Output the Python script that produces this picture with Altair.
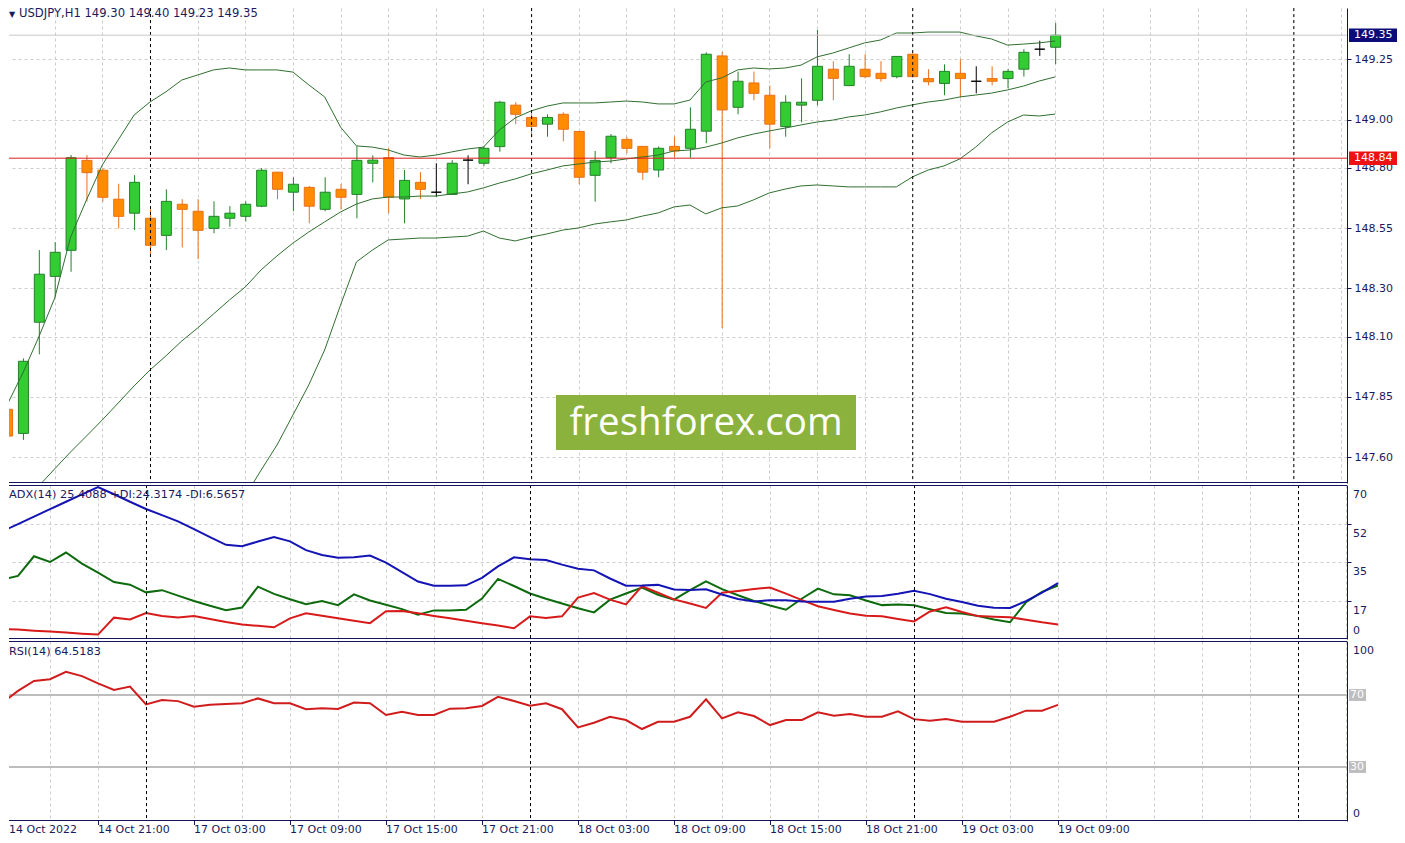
import altair as alt
import pandas as pd

# ---------------- values ----------------
# bar index 0 = 14 Oct 15:00 ... 66 = 19 Oct 09:00 (H1)
opens = [147.799, 147.699, 148.160, 148.350, 148.458, 148.831, 148.790, 148.670, 148.612, 148.591,
         148.520, 148.649, 148.620, 148.549, 148.591, 148.599, 148.641, 148.782, 148.699, 148.719,
         148.628, 148.711, 148.690, 148.819, 148.842, 148.671, 148.740, 148.699, 148.690, 148.832,
         148.819, 148.888, 149.060, 149.009, 148.981, 149.022, 148.951, 148.769, 148.842, 148.918,
         148.889, 148.791, 148.889, 148.881, 148.952, 149.264, 149.051, 149.152, 149.101, 148.971,
         149.060, 149.080, 149.209, 149.141, 149.209, 149.192, 149.178, 149.271, 149.170, 149.150,
         149.192, 149.159, 149.170, 149.170, 149.209, 149.292, 149.300]
highs = [147.872, 148.010, 148.459, 148.492, 148.853, 148.853, 148.798, 148.734, 148.770, 148.628,
         148.711, 148.670, 148.670, 148.661, 148.641, 148.661, 148.799, 148.783, 148.761, 148.725,
         148.761, 148.732, 148.890, 148.852, 148.881, 148.791, 148.782, 148.819, 148.832, 148.852,
         148.890, 149.078, 149.072, 149.026, 149.022, 149.030, 148.952, 148.870, 148.940, 148.929,
         148.890, 148.889, 148.929, 149.051, 149.279, 149.281, 149.199, 149.199, 149.141, 149.101,
         149.171, 149.372, 149.242, 149.271, 149.271, 149.242, 149.263, 149.275, 149.209, 149.229,
         149.250, 149.221, 149.221, 149.209, 149.292, 149.327, 149.400]
lows = [147.630, 147.672, 148.027, 148.266, 148.369, 148.660, 148.660, 148.549, 148.542, 148.432,
        148.459, 148.470, 148.422, 148.529, 148.556, 148.578, 148.637, 148.670, 148.620, 148.570,
        148.620, 148.628, 148.591, 148.740, 148.612, 148.570, 148.671, 148.680, 148.687, 148.732,
        148.809, 148.867, 148.981, 148.927, 148.929, 148.910, 148.732, 148.660, 148.819, 148.860,
        148.750, 148.761, 148.842, 148.842, 148.902, 148.136, 149.022, 149.080, 148.881, 148.929,
        148.989, 149.060, 149.080, 149.139, 149.171, 149.157, 149.171, 149.176, 149.142, 149.101,
        149.091, 149.109, 149.142, 149.130, 149.178, 149.264, 149.230]
closes = [147.688, 147.998, 148.359, 148.450, 148.842, 148.780, 148.678, 148.599, 148.740, 148.479,
          148.661, 148.628, 148.541, 148.599, 148.612, 148.649, 148.790, 148.711, 148.732, 148.641,
          148.699, 148.678, 148.831, 148.832, 148.678, 148.748, 148.711, 148.699, 148.819, 148.832,
          148.881, 149.072, 149.022, 148.972, 149.009, 148.960, 148.761, 148.831, 148.931, 148.881,
          148.782, 148.881, 148.870, 148.960, 149.271, 149.040, 149.159, 149.109, 148.981, 149.072,
          149.072, 149.221, 149.171, 149.221, 149.178, 149.170, 149.262, 149.178, 149.157, 149.200,
          149.170, 149.159, 149.159, 149.200, 149.279, 149.292, 149.350]

bb_upper = [147.817, 147.950, 148.099, 148.260, 148.513, 148.667, 148.812, 148.916, 149.019, 149.073,
            149.115, 149.164, 149.185, 149.206, 149.214, 149.206, 149.206, 149.206, 149.197, 149.144,
            149.094, 148.969, 148.891, 148.886, 148.874, 148.853, 148.845, 148.853, 148.866, 148.878,
            148.886, 148.957, 149.007, 149.036, 149.056, 149.069, 149.069, 149.069, 149.073, 149.077,
            149.073, 149.065, 149.065, 149.081, 149.156, 149.173, 149.206, 149.214, 149.210, 149.214,
            149.226, 149.260, 149.276, 149.297, 149.318, 149.330, 149.359, 149.359, 149.363, 149.363,
            149.363, 149.347, 149.334, 149.309, 149.313, 149.318, 149.326]
bb_middle = [147.340, 147.411, 147.481, 147.552, 147.622, 147.688, 147.755, 147.825, 147.896, 147.962,
             148.020, 148.082, 148.136, 148.194, 148.252, 148.306, 148.377, 148.435, 148.488, 148.534,
             148.576, 148.617, 148.650, 148.671, 148.679, 148.679, 148.683, 148.683, 148.692, 148.700,
             148.717, 148.737, 148.754, 148.775, 148.791, 148.808, 148.816, 148.824, 148.828, 148.837,
             148.845, 148.853, 148.870, 148.874, 148.886, 148.903, 148.924, 148.940, 148.953, 148.965,
             148.978, 148.990, 148.998, 149.011, 149.019, 149.032, 149.048, 149.061, 149.073, 149.081,
             149.094, 149.102, 149.110, 149.123, 149.139, 149.160, 149.177]
bb_lower = [None] * 15 + [
    147.440, 147.547, 147.651, 147.775, 147.900,
    148.045, 148.231, 148.410, 148.459, 148.501, 148.505, 148.509, 148.509, 148.513, 148.517,
    148.538, 148.509, 148.497, 148.513, 148.526, 148.542, 148.551, 148.567, 148.576, 148.584,
    148.600, 148.613, 148.638, 148.646, 148.609, 148.634, 148.642, 148.667, 148.696, 148.712,
    148.725, 148.729, 148.725, 148.721, 148.721, 148.721, 148.721, 148.762, 148.791, 148.808,
    148.837, 148.886, 148.945, 148.990, 149.019, 149.015, 149.023]

adx = [48.9, 52.2, 55.6, 59.0, 62.4, 65.7, 69.1, 65.8, 62.4, 59.1,
       56.3, 53.5, 49.9, 46.3, 42.8, 42.2, 44.3, 46.3, 44.4, 40.4,
       38.2, 36.9, 37.2, 37.9, 34.7, 30.4, 26.1, 24.2, 24.2, 24.4,
       27.8, 33.0, 37.1, 36.2, 35.9, 33.8, 31.9, 31.2, 27.5, 24.2,
       24.3, 24.6, 22.5, 22.3, 22.6, 20.2, 18.2, 17.1, 17.6, 17.6,
       17.0, 16.9, 16.9, 18.3, 19.3, 19.5, 20.6, 21.9, 20.4, 18.3,
       16.8, 15.1, 14.2, 14.1, 17.2, 21.1, 25.4]
plus_di = [26.9, 28.7, 37.6, 35.0, 39.3, 34.3, 30.2, 25.9, 24.7, 21.2,
           22.2, 19.7, 17.3, 15.1, 13.1, 14.3, 23.8, 20.5, 18.1, 15.8,
           17.3, 15.4, 20.3, 17.5, 15.6, 13.6, 11.0, 13.0, 13.0, 13.3,
           18.4, 27.3, 24.1, 20.7, 18.3, 16.1, 14.0, 12.1, 17.9, 20.7,
           23.4, 20.1, 17.9, 22.2, 26.2, 22.7, 19.9, 17.3, 15.2, 13.3,
           18.4, 22.9, 20.3, 19.9, 17.5, 15.4, 15.7, 15.3, 13.5, 11.8,
           11.6, 10.5, 8.9, 7.6, 16.7, 21.4, 24.3]
minus_di = [4.6, 4.3, 3.8, 3.4, 2.9, 2.4, 2.0, 9.7, 8.9, 11.8,
            10.5, 9.8, 10.4, 9.1, 7.7, 6.6, 6.0, 5.3, 9.4, 11.7,
            10.6, 9.4, 8.3, 7.2, 12.6, 12.7, 11.7, 10.5, 9.4, 8.3,
            7.2, 6.1, 4.9, 10.3, 9.5, 10.3, 18.8, 20.9, 17.9, 15.7,
            24.0, 21.1, 18.0, 16.1, 14.1, 21.0, 21.8, 22.7, 23.4, 20.6,
            17.7, 14.9, 13.2, 11.6, 10.6, 10.3, 9.1, 8.0, 12.5, 14.4,
            12.3, 10.4, 10.1, 9.9, 8.8, 7.6, 6.6]
rsi = [65.6, 72.3, 77.8, 78.8, 82.9, 80.5, 76.5, 72.8, 74.7, 64.8,
       67.2, 66.6, 63.5, 64.6, 65.0, 65.4, 68.1, 65.4, 65.4, 62.1,
       62.6, 62.2, 65.8, 65.4, 58.9, 60.7, 58.9, 58.9, 62.4, 62.6,
       63.9, 69.0, 66.7, 64.0, 65.4, 62.1, 52.0, 54.6, 57.9, 56.1,
       51.1, 55.1, 55.1, 57.9, 67.6, 57.0, 60.4, 58.3, 53.3, 56.1,
       56.1, 60.4, 58.5, 59.4, 57.9, 57.9, 60.9, 56.6, 55.7, 56.6,
       55.1, 55.1, 55.1, 57.9, 61.3, 61.3, 64.5]

time_label_idx = [0, 6, 12, 18, 24, 30, 36, 42, 48, 54, 60, 66]
time_labels = ["14 Oct 2022", "14 Oct 21:00", "17 Oct 03:00", "17 Oct 09:00", "17 Oct 15:00",
               "17 Oct 21:00", "18 Oct 03:00", "18 Oct 09:00", "18 Oct 15:00", "18 Oct 21:00",
               "19 Oct 03:00", "19 Oct 09:00"]
day_separators = [9, 33, 57, 81]
price_ticks = [149.25, 149.00, 148.80, 148.55, 148.30, 148.10, 147.85, 147.60]
level_price = 148.84
last_price = 149.35
adx_levels = [70, 52.5, 35, 17.5]
adx_level_labels = ["70", "52", "35", "17"]
rsi_levels = [70, 30]

header_main = "USDJPY,H1  149.30 149.40 149.23 149.35"
header_adx = "ADX(14) 25.4088 +DI:24.3174 -DI:6.5657"
header_rsi = "RSI(14) 64.5183"
watermark = "freshforex.com"

# ---------------- styling ----------------
W = 1338
H_MAIN, H_ADX, H_RSI = 475, 154, 180
X_DOM = [0.4375, 84.0625]
Y_DOM = [147.4934, 149.4627]
NAVY = "#1a1a5c"
BORDER = "#14145e"
GRID = "#cdcdcd"
FONT = "DejaVu Sans"
BAND = "#2f6f2f"
UP_FILL, UP_LINE = "#33cc33", "#23802a"
DN_FILL, DN_LINE = "#ff8c00", "#e8701a"

n = len(opens)
idx = list(range(n))
bars = pd.DataFrame({"i": idx, "open": opens, "high": highs, "low": lows, "close": closes})
bars["dir"] = ["up" if c > o else ("down" if c < o else "flat") for o, c in zip(opens, closes)]

bands = pd.concat([
    pd.DataFrame({"i": idx, "v": bb_upper, "band": "upper"}),
    pd.DataFrame({"i": idx, "v": bb_middle, "band": "middle"}),
    pd.DataFrame({"i": idx, "v": bb_lower, "band": "lower"}),
]).dropna()

ind = pd.DataFrame({"i": idx, "adx": adx, "pdi": plus_di, "mdi": minus_di, "rsi": rsi})
sep_df = pd.DataFrame({"s": day_separators})
lab_df = pd.DataFrame({"i": time_label_idx, "t": time_labels})
grid_idx = list(range(0, 85, 3))

xs = alt.Scale(domain=X_DOM, nice=False, zero=False)


def xenc(field):
    return alt.X(f"{field}:Q", scale=xs,
                 axis=alt.Axis(values=grid_idx, grid=True, gridColor=GRID, gridDash=[3, 3],
                               labels=False, ticks=False, domain=False, title=None))


def yenc_main(field):
    return alt.Y(f"{field}:Q", scale=alt.Scale(domain=Y_DOM, nice=False, zero=False),
                 axis=alt.Axis(orient="right", values=price_ticks, format=".2f", grid=True,
                               gridColor=GRID, gridDash=[3, 3], tickSize=4, tickColor=BORDER,
                               domainColor=BORDER, labelColor=NAVY, labelFont=FONT,
                               labelFontSize=11, labelPadding=3, title=None))


def yenc_adx(field):
    return alt.Y(f"{field}:Q", scale=alt.Scale(domain=[0, 70], nice=False, zero=False),
                 axis=alt.Axis(orient="right", values=[17.5, 35, 52.5], grid=True, gridColor=GRID,
                               gridDash=[3, 3], tickSize=4, tickColor=BORDER, domainColor=BORDER,
                               labels=False, title=None))


def yenc_rsi(field):
    return alt.Y(f"{field}:Q", scale=alt.Scale(domain=[0, 100], nice=False, zero=False),
                 axis=alt.Axis(orient="right", labels=False, ticks=False, grid=False,
                               domainColor=BORDER, title=None))


def one(t):
    return alt.Chart(pd.DataFrame({"t": [t]}))


def separators():
    return alt.Chart(sep_df).mark_rule(color="#000000", strokeDash=[3, 3], strokeWidth=1,
                                       xOffset=0.5, clip=True).encode(x=xenc("s"))


def border(y):
    return one("b").mark_rule(color=BORDER, strokeWidth=1).encode(
        x=alt.value(0), x2=alt.value(W), y=alt.value(y))


def candles(d, fill, line):
    base = alt.Chart(bars).transform_filter(f"datum.dir == '{d}'")
    wick = base.mark_rule(strokeWidth=1, color=line, xOffset=0.5, clip=True).encode(
        x=xenc("i"), y=yenc_main("low"), y2="high:Q")
    body = base.mark_bar(size=10, strokeWidth=1, fill=fill, stroke=line, xOffset=0.5, clip=True).encode(
        x=xenc("i"), y=yenc_main("open"), y2="close:Q")
    return [wick, body]


def price_tag(p, txt, color):
    d = alt.Chart(pd.DataFrame({"p": [p], "t": [txt]})).transform_calculate(
        lo="datum.p - 0.028", hi="datum.p + 0.028")
    box = d.mark_rect(color=color).encode(
        x=alt.value(W + 2), x2=alt.value(W + 50), y=yenc_main("lo"), y2="hi:Q")
    lab = d.mark_text(align="left", baseline="middle", font=FONT, fontSize=11, color="white").encode(
        x=alt.value(W + 7), y=yenc_main("p"), text="t:N")
    return [box, lab]


# ---------------- main price panel ----------------
band_lines = alt.Chart(bands).mark_line(color=BAND, strokeWidth=1, clip=True).encode(
    x=xenc("i"), y=yenc_main("v"), detail="band:N")
bid_line = alt.Chart(pd.DataFrame({"p": [last_price]})).mark_rule(color="#c8c8c8", strokeWidth=1).encode(
    y=yenc_main("p"))
level_line = alt.Chart(pd.DataFrame({"p": [level_price]})).mark_rule(color="#dd1c1c", strokeWidth=1).encode(
    y=yenc_main("p"))
head_tri = one("\u25BC").mark_text(align="left", baseline="top", font=FONT, fontSize=8, color=NAVY).encode(
    x=alt.value(0), y=alt.value(3), text="t:N")
head_main = one(header_main).mark_text(align="left", baseline="top", font=FONT, fontSize=11.6, color=NAVY).encode(
    x=alt.value(10), y=alt.value(0), text="t:N")
wm_box = one("w").mark_rect(color="#8ab23d").encode(
    x=alt.value(547), x2=alt.value(847), y=alt.value(387), y2=alt.value(442))
wm_text = one(watermark).mark_text(align="center", baseline="middle", font="Open Sans", fontSize=38.5, color="white").encode(
    x=alt.value(697), y=alt.value(415), text="t:N")

main_layers = (candles("up", UP_FILL, UP_LINE) + candles("down", DN_FILL, DN_LINE)
               + candles("flat", "#000000", "#000000")
               + [band_lines, separators(), bid_line, level_line, wm_box, wm_text]
               + price_tag(last_price, "149.35", "#0b0b7a") + price_tag(level_price, "148.84", "#ee1111")
               + [head_tri, head_main, border(H_MAIN - 0.5)])
main = alt.layer(*main_layers).properties(width=W, height=H_MAIN)

# ---------------- ADX panel ----------------
ind_c = alt.Chart(ind)
adx_line = ind_c.mark_line(strokeWidth=2, color="#1414b4", clip=True).encode(x=xenc("i"), y=yenc_adx("adx"))
pdi_line = ind_c.mark_line(strokeWidth=2, color="#0d6a0d", clip=True).encode(x=xenc("i"), y=yenc_adx("pdi"))
mdi_line = ind_c.mark_line(strokeWidth=2, color="#d81a1a", clip=True).encode(x=xenc("i"), y=yenc_adx("mdi"))
adx_lab = alt.Chart(pd.DataFrame({"v": adx_levels, "t": adx_level_labels})).mark_text(
    align="left", baseline="middle", dy=10, font=FONT, fontSize=11, color=NAVY).encode(
    x=alt.value(W + 6), y=yenc_adx("v"), text="t:N")
adx_zero = alt.Chart(pd.DataFrame({"v": [0], "t": ["0"]})).mark_text(
    align="left", baseline="middle", dy=-8, font=FONT, fontSize=11, color=NAVY).encode(
    x=alt.value(W + 6), y=yenc_adx("v"), text="t:N")
adx_head = one(header_adx).mark_text(align="left", baseline="middle", font=FONT, fontSize=11.3, color=NAVY).encode(
    x=alt.value(0), y=alt.value(10), text="t:N")
adx_c = alt.layer(
    pdi_line, mdi_line, adx_line, separators(), adx_lab, adx_zero, adx_head,
    border(0.5), border(H_ADX - 0.5)
).properties(width=W, height=H_ADX)

# ---------------- RSI panel ----------------
rsi_lvl = alt.Chart(pd.DataFrame({"v": rsi_levels, "t": ["70", "30"]}))
rsi_level_lines = rsi_lvl.mark_rule(color="#bdbdbd", strokeWidth=2).encode(y=yenc_rsi("v"))
rsi_line = ind_c.mark_line(color="#d01c1c", strokeWidth=2, clip=True).encode(x=xenc("i"), y=yenc_rsi("rsi"))
rsi_boxes = rsi_lvl.transform_calculate(lo="datum.v - 3.3", hi="datum.v + 3.3").mark_rect(color="#bdbdbd").encode(
    x=alt.value(W + 2), x2=alt.value(W + 19), y=yenc_rsi("lo"), y2="hi:Q")
rsi_box_text = rsi_lvl.mark_text(align="center", baseline="middle", font=FONT, fontSize=11, color="white").encode(
    x=alt.value(W + 10), y=yenc_rsi("v"), text="t:N")
rsi_top = alt.Chart(pd.DataFrame({"v": [100], "t": ["100"]})).mark_text(
    align="left", baseline="middle", dy=10, font=FONT, fontSize=11, color=NAVY).encode(
    x=alt.value(W + 6), y=yenc_rsi("v"), text="t:N")
rsi_bot = alt.Chart(pd.DataFrame({"v": [0], "t": ["0"]})).mark_text(
    align="left", baseline="middle", dy=-7, font=FONT, fontSize=11, color=NAVY).encode(
    x=alt.value(W + 6), y=yenc_rsi("v"), text="t:N")
rsi_head = one(header_rsi).mark_text(align="left", baseline="middle", font=FONT, fontSize=11.3, color=NAVY).encode(
    x=alt.value(0), y=alt.value(11), text="t:N")
time_text = alt.Chart(lab_df).transform_calculate(xp=f"max(datum.i, {X_DOM[0]})").mark_text(
    align="left", baseline="middle", font=FONT, fontSize=11, color=NAVY).encode(
    x=xenc("xp"), y=alt.value(H_RSI + 9), text="t:N")
time_ticks = alt.Chart(lab_df).transform_filter(f"datum.i > {X_DOM[0]}").mark_rule(
    color=BORDER, xOffset=0.5).encode(
    x=xenc("i"), y=alt.value(H_RSI), y2=alt.value(H_RSI + 4))
rsi_c = alt.layer(
    rsi_level_lines, rsi_line, separators(), rsi_boxes, rsi_box_text, rsi_top, rsi_bot,
    rsi_head, time_ticks, time_text, border(0.5), border(H_RSI - 0.5)
).properties(width=W, height=H_RSI)

chart = alt.vconcat(main, adx_c, rsi_c, spacing=2, bounds="flush").properties(
    padding=0, background="white"
).configure_view(strokeOpacity=0)

chart.save("out.html", embed_options={"renderer": "svg", "actions": False})
